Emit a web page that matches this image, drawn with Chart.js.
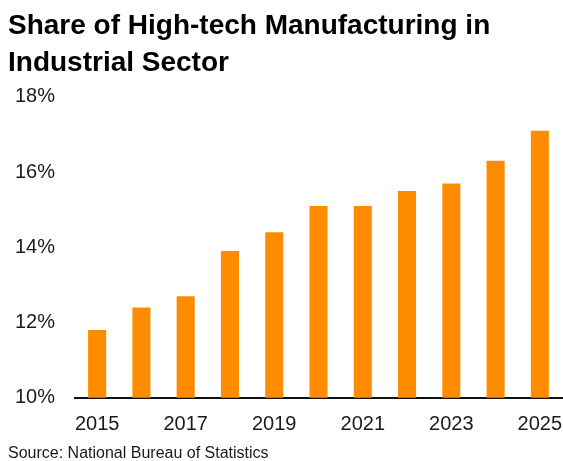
<!DOCTYPE html>
<html>
<head>
<meta charset="utf-8">
<script src="https://cdn.jsdelivr.net/npm/chart.js@4/dist/chart.umd.min.js"></script>
<style>
  html, body { margin: 0; padding: 0; background: #fff; }
  #wrap { width: 563px; height: 461px; }
</style>
</head>
<body>
<div id="wrap"><canvas id="c" width="563" height="461"></canvas></div>
<script>
// Share of high-tech manufacturing in the industrial sector, by year (%)
const years = ['2015','2016','2017','2018','2019','2020','2021','2022','2023','2024','2025'];
const shares = [11.8, 12.4, 12.7, 13.9, 14.4, 15.1, 15.1, 15.5, 15.7, 16.3, 17.1];
const yTicks = [10, 12, 14, 16, 18];
const titleLines = ['Share of High-tech Manufacturing in', 'Industrial Sector'];
const sourceText = 'Source: National Bureau of Statistics';

const FONT = "'Liberation Sans', Arial, sans-serif";

new Chart(document.getElementById('c'), {
  type: 'bar',
  data: {
    labels: years,
    datasets: [{
      data: shares,
      backgroundColor: '#ff8c00',
      borderWidth: 0,
      barPercentage: 0.8,
      categoryPercentage: 0.51
    }]
  },
  options: {
    responsive: false,
    animation: false,
    devicePixelRatio: 1,
    layout: { padding: { left: 8, right: 1, top: 0, bottom: -2 } },
    plugins: {
      legend: { display: false },
      tooltip: { enabled: false },
      title: {
        display: true,
        text: titleLines,
        align: 'start',
        color: '#000',
        font: { family: FONT, size: 28, weight: 'bold', lineHeight: 1.32 },
        padding: { top: 8, bottom: 15 }
      },
      subtitle: {
        display: true,
        text: sourceText,
        position: 'bottom',
        align: 'start',
        color: '#1a1a1a',
        font: { family: FONT, size: 16 },
        padding: { top: 0, bottom: 0 }
      }
    },
    scales: {
      x: {
        grid: { display: false, drawTicks: false },
        border: { display: true, color: '#111', width: 2 },
        afterFit: function (axis) {
          axis.height = 46;
          axis.paddingLeft = 0;
          axis.paddingRight = 0;
        },
        ticks: {
          autoSkip: false,
          maxRotation: 0,
          color: '#1a1a1a',
          padding: 15,
          font: { family: FONT, size: 20 },
          callback: function (v, i) { return i % 2 === 0 ? years[i] : ''; }
        }
      },
      y: {
        min: yTicks[0],
        max: yTicks[yTicks.length - 1],
        afterBuildTicks: function (axis) { axis.ticks = yTicks.map(v => ({ value: v })); },
        afterFit: function (axis) { axis.width = 67; },
        grid: { display: false, drawTicks: false },
        border: { display: false },
        ticks: {
          color: '#1a1a1a',
          padding: 20,
          font: { family: FONT, size: 20 },
          callback: v => v + '%'
        }
      }
    }
  }
});
</script>
</body>
</html>
